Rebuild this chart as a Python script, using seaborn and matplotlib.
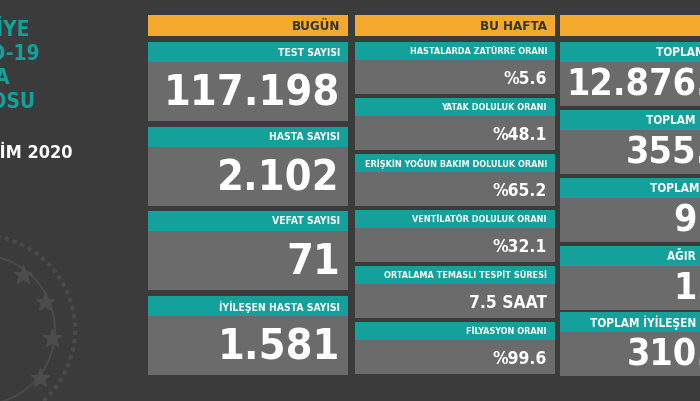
import matplotlib
matplotlib.use("Agg")
import matplotlib.pyplot as plt
import matplotlib.patches as mpatches
import seaborn as sns

sns.set_theme(style="white")
plt.rcParams['font.family'] = ['DejaVu Sans']
plt.rcParams['font.stretch'] = 'condensed'

# data
title_lines = ["TÜRKİYE", "COVID-19", "HASTA", "TABLOSU"]
date_text = "25 EKİM 2020"
headers = ["BUGÜN", "BU HAFTA", "TOPLAM"]
today_labels = ["TEST SAYISI", "HASTA SAYISI", "VEFAT SAYISI", "İYİLEŞEN HASTA SAYISI"]
today_values = ["117.198", "2.102", "71", "1.581"]
week_labels = ["HASTALARDA ZATÜRRE ORANI", "YATAK DOLULUK ORANI",
               "ERİŞKİN YOĞUN BAKIM DOLULUK ORANI", "VENTİLATÖR DOLULUK ORANI",
               "ORTALAMA TEMASLI TESPİT SÜRESİ", "FİLYASYON ORANI"]
week_values = ["%5.6", "%48.1", "%65.2", "%32.1", "7.5 SAAT", "%99.6"]
total_labels = ["TOPLAM TEST SAYISI", "TOPLAM HASTA SAYISI", "TOPLAM VEFAT SAYISI",
                "AĞIR HASTA SAYISI", "TOPLAM İYİLEŞEN HASTA SAYISI"]
total_values = ["12.876.521", "355.528", "9.584", "1.953", "310.436"]

BG = "#3b3b3c"
TEAL = "#14a19c"
GRAY = "#6c6b6b"
ORANGE = "#f4a92c"

fig = plt.figure(figsize=(7, 4.01), dpi=100)
fig.patch.set_facecolor(BG)
ax = fig.add_axes([0, 0, 1, 1])
ax.set_xlim(0, 700)
ax.set_ylim(401, 0)
ax.axis("off")
ax.set_facecolor(BG)

# faint emblem
ax.add_patch(mpatches.Circle((-20, 330), 95, fill=False, ec="#4a4a4b", lw=3, ls=(0, (1, 1))))
ax.add_patch(mpatches.Circle((-20, 330), 75, fill=False, ec="#4a4a4b", lw=1.5))
for sx, sy in [(23, 275), (45, 302), (52, 338), (40, 378)]:
    ax.plot(sx, sy, marker="*", ms=14, color="#4c4c4d")

# left title (cut by the left edge as in the source)
title_right = [30, 40, 10, 36]
for i, (t, xr) in enumerate(zip(title_lines, title_right)):
    ax.text(xr, 30 + i * 24, t, ha="right", va="center", color=TEAL, fontsize=15, fontweight="bold")
ax.text(72, 153, date_text, ha="right", va="center", color="white", fontsize=13, fontweight="bold")


def column(x0, x1, header, labels, values, tops, band, body, valsize, labsize):
    ax.add_patch(mpatches.Rectangle((x0, 15), x1 - x0, 21, color=ORANGE, lw=0))
    ax.text(x1 - 8, 26, header, ha="right", va="center", color="#333333",
            fontsize=9.5, fontweight="bold")
    for lab, val, top in zip(labels, values, tops):
        ax.add_patch(mpatches.Rectangle((x0, top), x1 - x0, band, color=TEAL, lw=0))
        ax.add_patch(mpatches.Rectangle((x0, top + band), x1 - x0, body, color=GRAY, lw=0))
        ax.text(x1 - 8, top + band / 2 + 0.5, lab, ha="right", va="center", color="white",
                fontsize=labsize, fontweight="bold")
        ax.text(x1 - 8, top + band + body / 2 + 2, val, ha="right", va="center", color="white",
                fontsize=valsize, fontweight="bold")


column(148, 348, headers[0], today_labels, today_values, [42, 127, 211, 296], 20, 59, 31, 7.5)
column(355, 555, headers[1], week_labels, week_values, [42, 98, 154, 210, 266, 322], 18, 34, 12.5, 6.5)
column(560, 788, headers[2], total_labels, total_values, [42, 110, 178, 246, 312], 20, 44, 27, 8.5)

fig.savefig("out.png", dpi=100, facecolor=BG)
